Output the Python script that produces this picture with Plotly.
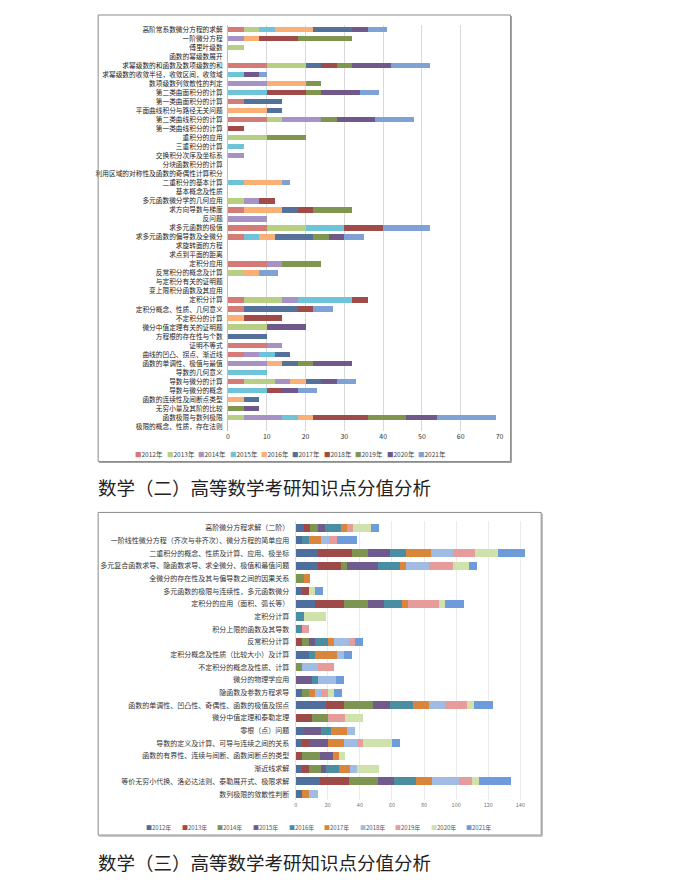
import plotly.graph_objects as go

W, H = 679, 896
FONT = "Noto Sans CJK SC"

years = ["2012年", "2013年", "2014年", "2015年", "2016年", "2017年", "2018年", "2019年", "2020年", "2021年"]

# ---------------- Chart 1 data ----------------
cats1 = [
    "高阶常系数微分方程的求解", "一阶微分方程", "傅里叶级数", "函数的幂级数展开",
    "求幂级数的和函数及数项级数的和", "求幂级数的收敛半径，收敛区间，收敛域", "数项级数列敛散性的判定",
    "第二类曲面积分的计算", "第一类曲面积分的计算", "平面曲线积分与路径无关问题", "第二类曲线积分的计算",
    "第一类曲线积分的计算", "重积分的应用", "三重积分的计算", "交换积分次序及坐标系", "分块函数积分的计算",
    "利用区域的对称性及函数的奇偶性计算积分", "二重积分的基本计算", "基本概念及性质", "多元函数微分学的几何应用",
    "求方向导数与梯度", "反问题", "求多元函数的极值", "求多元函数的偏导数及全微分", "求旋转面的方程",
    "求点到平面的距离", "定积分应用", "反常积分的概念及计算", "与定积分有关的证明题", "变上限积分函数及其应用",
    "定积分计算", "定积分概念、性质、几何意义", "不定积分的计算", "微分中值定理有关的证明题",
    "方程根的存在性与个数", "证明不等式", "曲线的凹凸、拐点、渐近线", "函数的单调性、极值与最值",
    "导数的几何意义", "导数与微分的计算", "导数与微分的概念", "函数的连续性及间断点类型",
    "无穷小量及其阶的比较", "函数极限与数列极限", "极限的概念、性质，存在法则",
]
a2012 = [4,0,0,0,10,0,0,0,4,0,10,0,0,0,0,0,0,0,0,0,4,0,10,4,0,0,10,0,0,0,4,4,0,0,0,10,4,0,0,4,0,0,0,0,0]
a2013 = [4,0,4,0,10,0,0,0,0,0,4,0,10,0,0,0,0,0,0,4,0,0,10,0,0,0,0,4,0,0,10,0,0,10,0,0,0,0,0,8,0,0,0,4,0]
a2014 = [0,4,0,0,0,0,10,0,0,0,10,0,0,0,4,0,0,0,0,4,0,10,0,0,0,0,4,0,0,0,4,0,0,0,0,4,4,10,0,4,0,0,0,10,0]
a2015 = [4,0,0,0,0,4,0,10,0,0,0,0,0,4,0,0,0,4,0,0,0,0,10,4,0,0,0,0,0,0,14,0,0,0,0,0,4,0,10,0,10,0,0,4,0]
a2016 = [10,4,0,0,0,0,10,0,0,10,0,0,0,0,0,0,0,10,0,0,10,0,0,4,0,0,0,4,0,0,0,0,4,0,0,0,0,4,0,4,0,4,0,4,0]
a2017 = [10,0,0,0,4,0,0,0,10,4,0,0,0,0,0,0,0,0,0,0,4,0,0,10,0,0,0,0,0,0,0,14,0,0,10,0,4,4,0,4,0,4,0,0,0]
a2018 = [0,10,0,0,4,0,0,10,0,0,0,4,0,0,0,0,0,0,0,4,4,0,10,0,0,0,0,0,0,0,4,4,10,0,0,0,0,0,0,0,4,0,0,14,0]
a2019 = [0,14,0,0,4,0,4,4,0,0,4,0,10,0,0,0,0,0,0,0,10,0,0,4,0,0,10,0,0,0,0,0,0,0,0,0,0,4,0,0,0,0,4,10,0]
a2020 = [4,0,0,0,10,4,0,10,0,0,10,0,0,0,0,0,0,0,0,0,0,0,0,4,0,0,0,0,0,0,0,0,0,10,0,0,0,10,0,4,4,0,4,8,0]
a2021 = [5,0,0,0,10,2,0,5,0,0,10,0,0,0,0,0,0,2,0,0,0,0,12,5,0,0,0,5,0,0,0,5,0,0,0,0,0,0,0,5,5,0,0,15,0]
vals1 = [a2012, a2013, a2014, a2015, a2016, a2017, a2018, a2019, a2020, a2021]
colors1 = ["#D47A77", "#B6CF82", "#A692C4", "#6EC3D9", "#FAB074",
           "#54719B", "#9E4B49", "#80964F", "#70598A", "#7EA1D6"]

# ---------------- Chart 2 data ----------------
cats2 = [
    "高阶微分方程求解（二阶）", "一阶线性微分方程（齐次与非齐次）、微分方程的简单应用",
    "二重积分的概念、性质及计算、应用、极坐标", "多元复合函数求导、隐函数求导、求全微分、极值和最值问题",
    "全微分的存在性及其与偏导数之间的因果关系", "多元函数的极限与连续性，多元函数微分",
    "定积分的应用（面积、弧长等）", "定积分计算", "积分上限的函数及其导数", "反常积分计算",
    "定积分概念及性质（比较大小）及计算", "不定积分的概念及性质、计算", "微分的物理学应用",
    "隐函数及参数方程求导", "函数的单调性、凹凸性、奇偶性、函数的极值及拐点", "微分中值定理和泰勒定理",
    "零根（点）问题", "导数的定义及计算、可导与连续之间的关系", "函数的有界性、连续与间断、函数间断点的类型",
    "渐近线求解", "等价无穷小代换、洛必达法则、泰勒展开式、极限求解", "数列极限的敛散性判断",
]
b2012 = [5,4,14,14,0,4,12,0,0,0,8,0,0,4,19,0,5,4,0,4,15,4]
b2013 = [4,0,21,14,0,4,18,0,0,4,0,0,0,0,11,10,0,4,4,4,18,0]
b2014 = [5,0,10,4,5,0,15,0,0,4,0,4,0,4,18,10,0,0,11,8,18,0]
b2015 = [4,0,14,19,0,0,10,0,0,4,0,0,10,0,11,0,11,12,8,3,10,0]
b2016 = [10,4,10,14,0,0,11,5,4,8,4,0,4,0,14,0,6,0,0,8,14,0]
b2017 = [4,8,15,4,4,0,4,0,0,4,14,0,0,4,10,0,10,10,4,7,10,4]
b2018 = [0,5,14,14,0,0,0,0,0,9,4,10,11,4,10,0,5,8,0,4,17,6]
b2019 = [4,5,14,15,0,0,19,0,4,4,0,10,0,4,14,11,0,4,0,0,8,0]
b2020 = [11,0,14,10,0,4,4,14,0,0,0,0,0,4,4,11,0,18,4,14,4,0]
b2021 = [5,12,17,5,0,5,12,0,0,5,5,0,5,5,12,0,0,5,0,0,20,0]
vals2 = [b2012, b2013, b2014, b2015, b2016, b2017, b2018, b2019, b2020, b2021]
colors2 = ["#4E6E9E", "#9E4A48", "#7E9552", "#6F5B8C", "#4B8EA3",
           "#D9853C", "#A0BCE4", "#E59C9A", "#CFE2AC", "#6E9BDA"]

caption1 = "数学（二）高等数学考研知识点分值分析"
caption2 = "数学（三）高等数学考研知识点分值分析"


def px_x(p):
    return p / W


def px_y(p):
    return 1 - p / H


fig = go.Figure()

for yr, v, c in zip(years, vals1, colors1):
    fig.add_trace(go.Bar(y=cats1, x=v, orientation="h", name=yr, width=0.6,
                         marker=dict(color=c, line=dict(width=0)),
                         xaxis="x", yaxis="y", showlegend=False))
for yr, v, c in zip(years, vals2, colors2):
    fig.add_trace(go.Bar(y=cats2, x=v, orientation="h", name=yr, width=0.64,
                         marker=dict(color=c, line=dict(width=0)),
                         xaxis="x2", yaxis="y2", showlegend=False))

shapes = [
    dict(type="rect", xref="paper", yref="paper", x0=px_x(97), x1=px_x(513),
         y0=px_y(461), y1=px_y(14), line=dict(color="#8a8a8a", width=1)),
    dict(type="line", xref="paper", yref="paper", x0=px_x(514), x1=px_x(514),
         y0=px_y(462), y1=px_y(15), line=dict(color="#a0a0a0", width=1)),
    dict(type="line", xref="paper", yref="paper", x0=px_x(98), x1=px_x(514),
         y0=px_y(462), y1=px_y(462), line=dict(color="#a0a0a0", width=1)),
    dict(type="rect", xref="paper", yref="paper", x0=px_x(97), x1=px_x(544),
         y0=px_y(835), y1=px_y(512), line=dict(color="#8a8a8a", width=1)),
    dict(type="line", xref="paper", yref="paper", x0=px_x(545), x1=px_x(545),
         y0=px_y(836), y1=px_y(513), line=dict(color="#a0a0a0", width=1)),
    dict(type="line", xref="paper", yref="paper", x0=px_x(98), x1=px_x(545),
         y0=px_y(836), y1=px_y(836), line=dict(color="#a0a0a0", width=1)),
]

annotations = []
for i, (yr, c) in enumerate(zip(years, colors1)):
    annotations.append(dict(
        xref="paper", yref="paper", x=px_x(132.5 + 31.7 * i), y=px_y(454),
        xanchor="left", yanchor="middle", showarrow=False,
        text=f"<span style='color:{c}'>■</span>{yr}",
        font=dict(family=FONT, size=6.5, color="#444")))
for i, (yr, c) in enumerate(zip(years, colors2)):
    annotations.append(dict(
        xref="paper", yref="paper", x=px_x(143.5 + 35.9 * i), y=px_y(827),
        xanchor="left", yanchor="middle", showarrow=False,
        text=f"<span style='color:{c}'>■</span>{yr}",
        font=dict(family=FONT, size=6, color="#555")))
annotations.append(dict(xref="paper", yref="paper", x=px_x(95), y=px_y(487),
                        xanchor="left", yanchor="middle", showarrow=False, text=caption1,
                        font=dict(family=FONT, size=18.5, color="#222")))
annotations.append(dict(xref="paper", yref="paper", x=px_x(95), y=px_y(862),
                        xanchor="left", yanchor="middle", showarrow=False, text=caption2,
                        font=dict(family=FONT, size=18.5, color="#222")))

fig.update_layout(
    width=W, height=H, margin=dict(l=0, r=0, t=0, b=0),
    paper_bgcolor="white", plot_bgcolor="white",
    barmode="stack", showlegend=False,
    font=dict(family=FONT),
    xaxis=dict(domain=[px_x(228), px_x(502)], range=[0, 70], dtick=10,
               showgrid=True, gridcolor="#D9D9D9", gridwidth=1, zeroline=False,
               tickfont=dict(size=7, color="#333"), anchor="y", fixedrange=True),
    yaxis=dict(domain=[px_y(430.5), px_y(23.8)], type="category",
               categoryorder="array", categoryarray=cats1,
               range=[len(cats1) - 0.5, -0.5], showline=True, linecolor="#BFBFBF",
               ticks="", ticklabelstandoff=3,
               tickfont=dict(size=6.7, color="#222"), anchor="x", fixedrange=True),
    xaxis2=dict(domain=[px_x(296.3), px_x(530)],
                range=[0, 140 * (530 - 296.3) / (523 - 296.3)], dtick=20,
                showgrid=True, gridcolor="#EBEBEB", gridwidth=1, zeroline=False,
                tickfont=dict(size=5.5, color="#777"), anchor="y2", fixedrange=True),
    yaxis2=dict(domain=[px_y(800.3), px_y(521)], type="category",
                categoryorder="array", categoryarray=cats2,
                range=[len(cats2) - 0.5, -0.5], showline=True, linecolor="#E0E0E0",
                ticks="", ticklabelstandoff=4,
                tickfont=dict(size=7, color="#333"), anchor="x2", fixedrange=True),
    shapes=shapes, annotations=annotations,
)

fig.write_html("out.html")
